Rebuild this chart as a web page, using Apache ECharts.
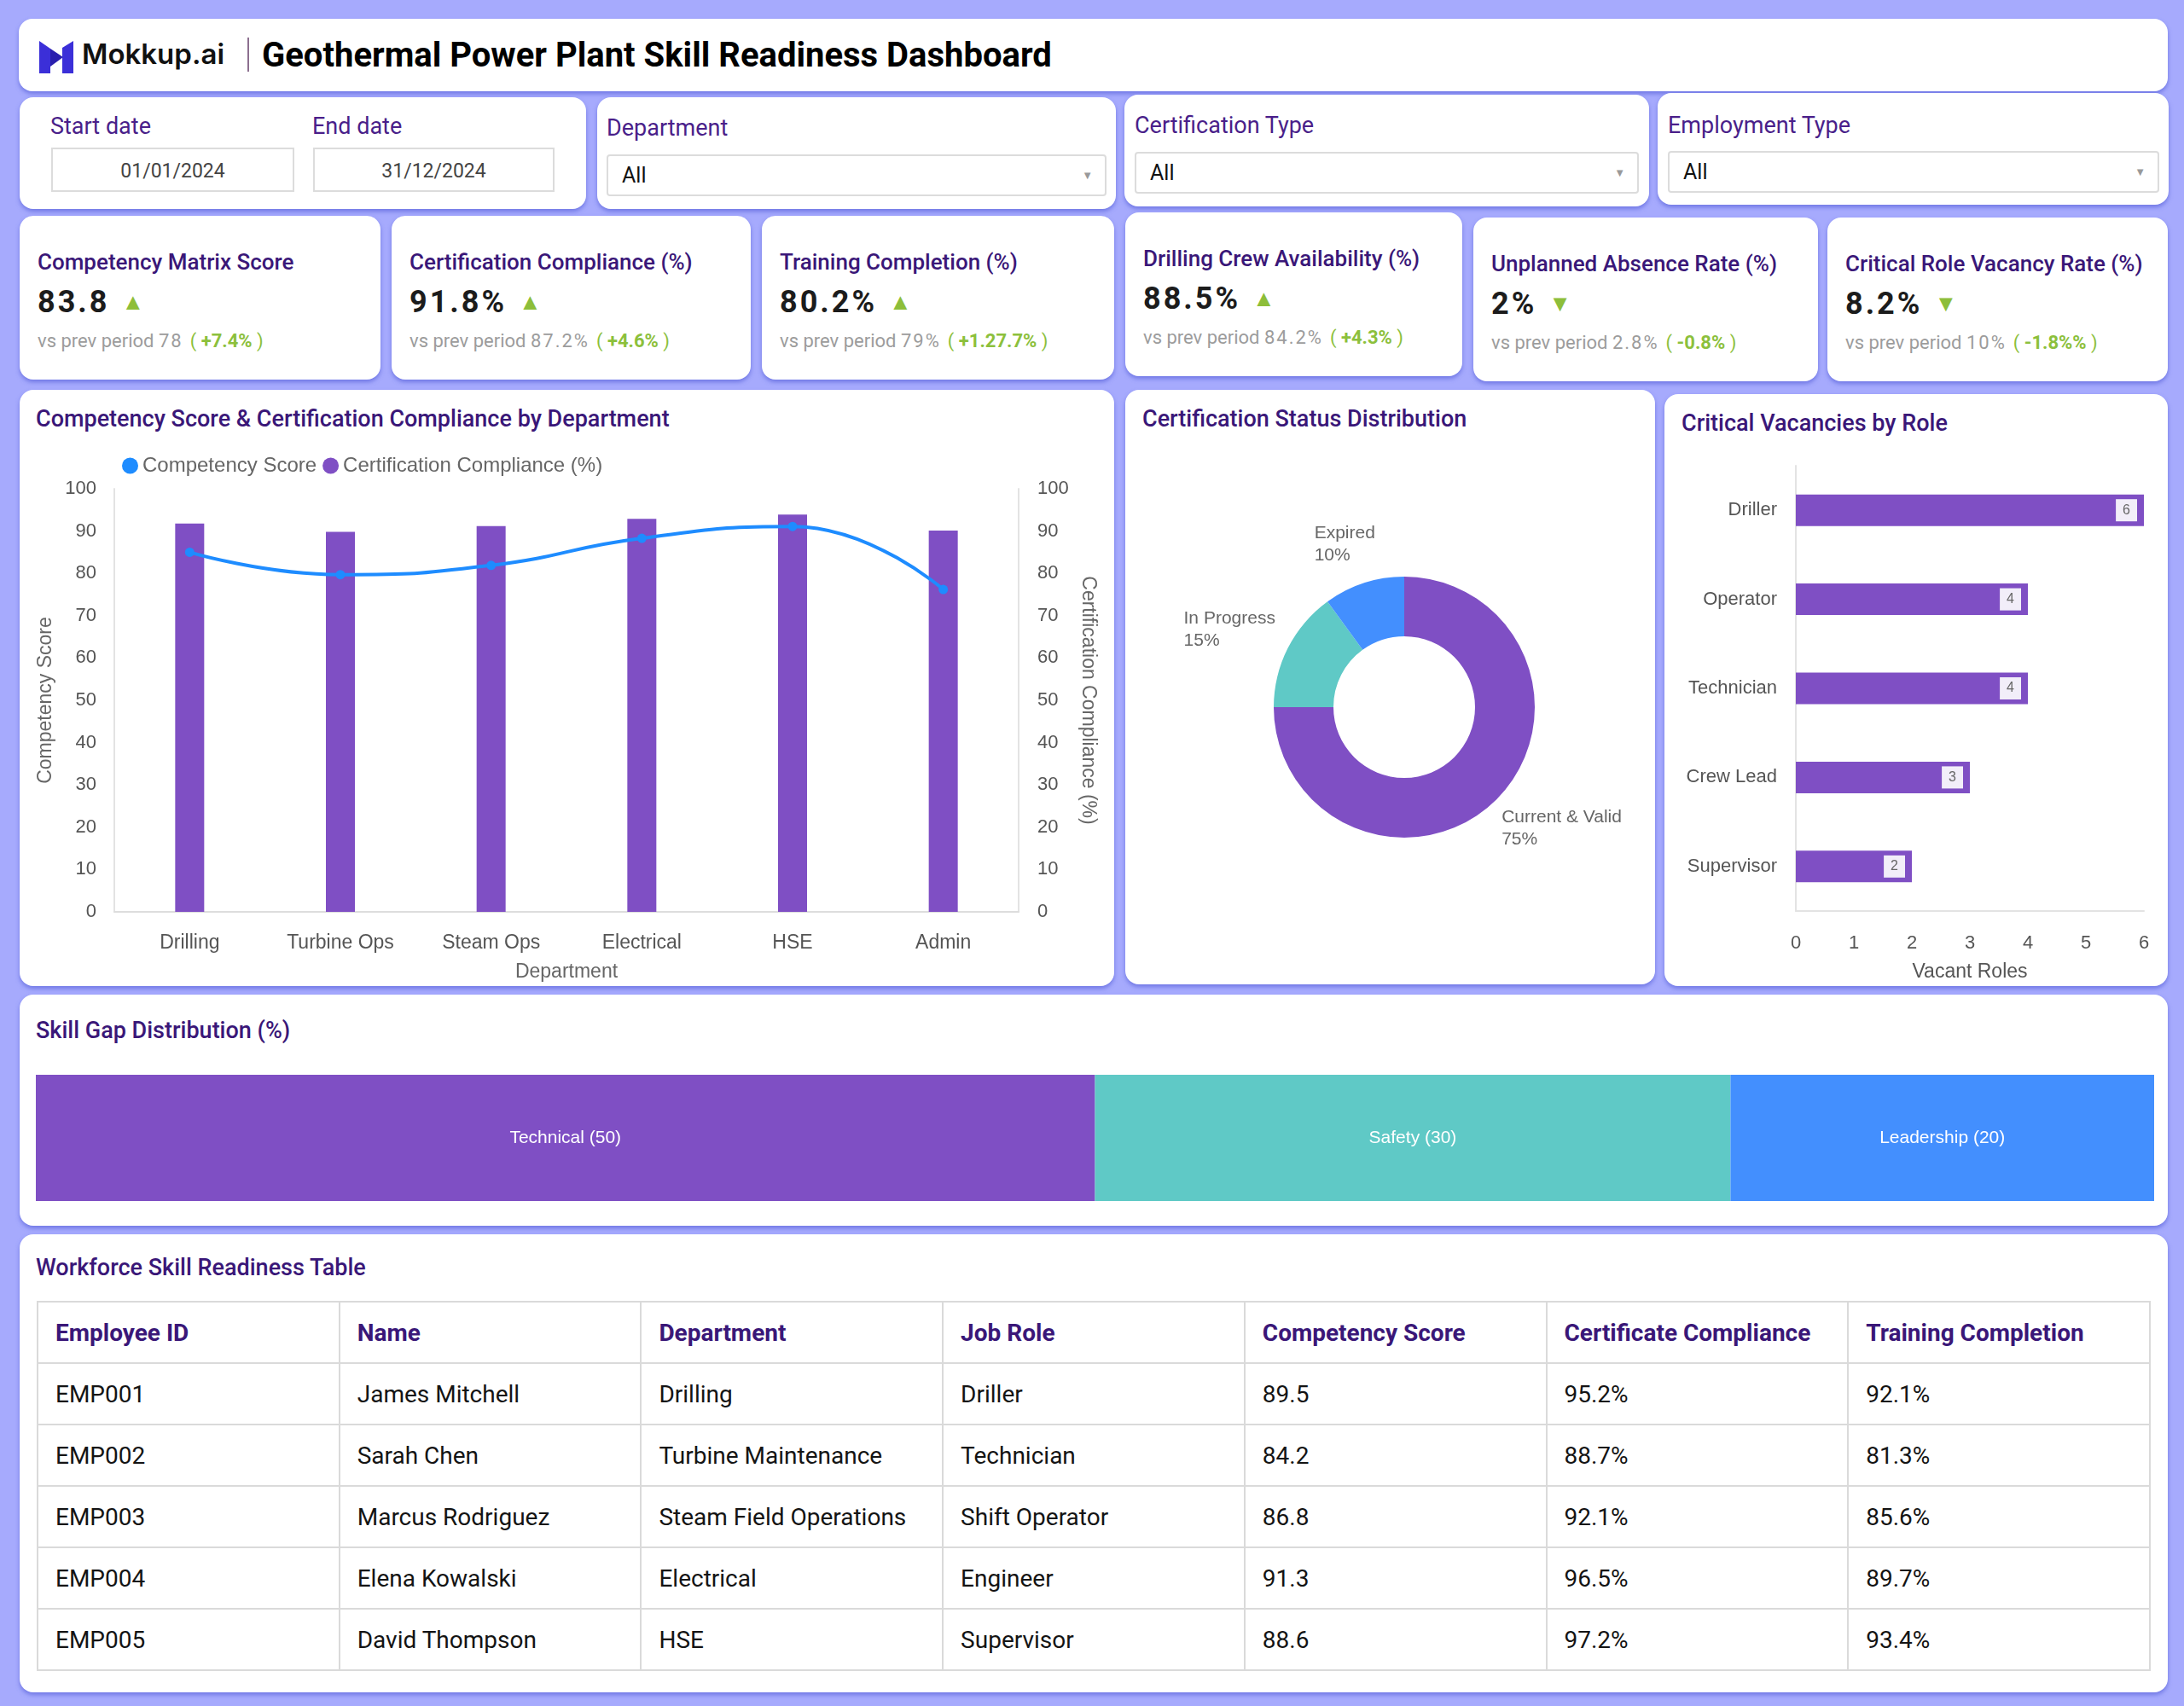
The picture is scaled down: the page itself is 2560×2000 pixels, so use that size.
<!DOCTYPE html>
<html>
<head>
<meta charset="utf-8">
<title>Geothermal Power Plant Skill Readiness Dashboard</title>
<script src="https://cdn.jsdelivr.net/npm/echarts@6/dist/echarts.min.js"></script>
<style>
  html, body { margin: 0; padding: 0; }
  body {
    width: 2560px; height: 2000px; position: relative; overflow: hidden;
    background: #a6aafd; font-family: Roboto, "Noto Sans", sans-serif;
  }
  .card {
    position: absolute; background: #fff; border-radius: 16px;
    box-shadow: 0 3px 5px rgba(70, 80, 210, 0.55);
  }
  .title { position: absolute; color: #3a1778; font-weight: 500; font-size: 27px; line-height: 32px; white-space: nowrap; }
  .flabel { position: absolute; color: #4a1f8a; font-size: 27px; line-height: 32px; }
  .datebox {
    position: absolute; height: 52px; border: 2px solid #dcdcdc; box-sizing: border-box;
    text-align: center; line-height: 52px; font-size: 23px; color: #444;
  }
  .select {
    position: absolute; height: 49px; border: 2px solid #dcdcdc; border-radius: 4px; box-sizing: border-box;
    font-size: 25px; line-height: 46px; color: #111; padding-left: 16px;
  }
  .select .arrow { position: absolute; right: 14px; top: 0; font-size: 13px; color: #999; }
  .kpi-title { position: absolute; left: 21px; top: 38px; color: #3a1778; font-weight: 500; font-size: 26px; line-height: 32px; white-space: nowrap; }
  .kpi-value { position: absolute; left: 21px; top: 80px; color: #1c1c1c; font-weight: 700; font-size: 36px; line-height: 42px; letter-spacing: 3px; white-space: nowrap; }
  .kpi-value .tri { color: #8dbe3a; font-size: 27px; margin-left: 14px; letter-spacing: 0; vertical-align: 3px; }
  .kpi-sub { position: absolute; left: 21px; top: 133px; color: #9c9c9c; font-size: 22px; line-height: 28px; white-space: nowrap; }
  .kpi-sub .num { letter-spacing: 2px; }
  .kpi-sub .chg { color: #8cc03c; margin-left: 8px; }
  .kpi-sub .chg b { font-weight: 700; }
  .chart { position: absolute; }
  table { position: absolute; border-collapse: collapse; table-layout: fixed; }
  td, th { border: 2px solid #dadada; height: 70px; padding: 0 0 0 20px; text-align: left; font-size: 28px; white-space: nowrap; }
  th { color: #3a1778; font-weight: 700; }
  td { color: #141414; font-weight: 400; }
</style>
</head>
<body>

<!-- header -->
<div class="card" style="left:22px;top:22px;width:2519px;height:85px;">
  <svg style="position:absolute;left:24px;top:26px;" width="40" height="38" viewBox="0 0 40 38">
    <polygon points="0,0 13,9 13,38 0,38" fill="#3b2fd8"/>
    <polygon points="13,9 28,19 13,30" fill="#2a1fae"/>
    <polygon points="40,0 27,8 27,38 40,38" fill="#3b2fd8"/>
  </svg>
  <div style="position:absolute;left:74px;top:21px;font-family:Inter,Roboto,sans-serif;font-weight:600;font-size:33px;line-height:40px;color:#111;">Mokkup.ai</div>
  <div style="position:absolute;left:268px;top:22px;width:2px;height:40px;background:#8c6f8f;"></div>
  <div style="position:absolute;left:285px;top:20px;font-weight:700;font-size:40px;line-height:46px;color:#000;white-space:nowrap;">Geothermal Power Plant Skill Readiness Dashboard</div>
</div>

<div id="filters"></div>
<div id="kpis"></div>

<!-- chart cards -->
<div class="card" style="left:23px;top:457px;width:1283px;height:699px;">
  <div class="title" style="left:19px;top:18px;">Competency Score &amp; Certification Compliance by Department</div>
  <div id="comboChart" class="chart" style="left:0;top:0;width:1283px;height:699px;"></div>
</div>
<div class="card" style="left:1319px;top:457px;width:621px;height:697px;">
  <div class="title" style="left:20px;top:18px;">Certification Status Distribution</div>
  <div id="donutChart" class="chart" style="left:0;top:0;width:621px;height:697px;"></div>
</div>
<div class="card" style="left:1951px;top:462px;width:590px;height:694px;">
  <div class="title" style="left:20px;top:18px;">Critical Vacancies by Role</div>
  <div id="vacancyChart" class="chart" style="left:0;top:0;width:590px;height:694px;"></div>
</div>
<div class="card" style="left:23px;top:1166px;width:2518px;height:271px;">
  <div class="title" style="left:19px;top:26px;">Skill Gap Distribution (%)</div>
  <div id="gapChart" class="chart" style="left:0;top:0;width:2518px;height:271px;"></div>
</div>
<div class="card" style="left:23px;top:1447px;width:2518px;height:537px;">
  <div class="title" style="left:19px;top:23px;">Workforce Skill Readiness Table</div>
  <table id="skillTable" style="left:20px;top:78px;width:2478px;"></table>
</div>

<script>
// ---- data ----
const departments = ['Drilling', 'Turbine Ops', 'Steam Ops', 'Electrical', 'HSE', 'Admin'];
const competencyScore = [85.0, 79.7, 81.9, 88.3, 91.1, 76.2];
const certCompliance = [91.8, 89.8, 91.2, 92.9, 93.9, 90.1];

const certStatusNames = ['Current & Valid', 'In Progress', 'Expired'];
const certStatusValues = [75, 15, 10];

const vacancyRoles = ['Driller', 'Operator', 'Technician', 'Crew Lead', 'Supervisor'];
const vacancyCounts = [6, 4, 4, 3, 2];

const skillGapNames = ['Technical', 'Safety', 'Leadership'];
const skillGapValues = [50, 30, 20];

const kpiTitles = ['Competency Matrix Score', 'Certification Compliance (%)', 'Training Completion (%)',
  'Drilling Crew Availability (%)', 'Unplanned Absence Rate (%)', 'Critical Role Vacancy Rate (%)'];
const kpiValues = ['83.8', '91.8%', '80.2%', '88.5%', '2%', '8.2%'];
const kpiUp = [true, true, true, true, false, false];
const kpiPrev = ['78', '87.2%', '79%', '84.2%', '2.8%', '10%'];
const kpiChange = ['+7.4%', '+4.6%', '+1.27.7%', '+4.3%', '-0.8%', '-1.8%%'];

const tableHeaders = ['Employee ID', 'Name', 'Department', 'Job Role', 'Competency Score', 'Certificate Compliance', 'Training Completion'];
const tableRows = [
  ['EMP001', 'James Mitchell', 'Drilling', 'Driller', '89.5', '95.2%', '92.1%'],
  ['EMP002', 'Sarah Chen', 'Turbine Maintenance', 'Technician', '84.2', '88.7%', '81.3%'],
  ['EMP003', 'Marcus Rodriguez', 'Steam Field Operations', 'Shift Operator', '86.8', '92.1%', '85.6%'],
  ['EMP004', 'Elena Kowalski', 'Electrical', 'Engineer', '91.3', '96.5%', '89.7%'],
  ['EMP005', 'David Thompson', 'HSE', 'Supervisor', '88.6', '97.2%', '93.4%']
];

const PURPLE = '#7f4fc4';
const TEAL = '#5fc9c6';
const BLUE = '#438ffe';
const LINE_BLUE = '#1e8cff';
const chartFont = '"Liberation Sans", Arial, sans-serif';

// ---- filters ----
const filterHtml = `
<div class="card" style="left:23px;top:114px;width:664px;height:131px;">
  <div class="flabel" style="left:36px;top:18px;">Start date</div>
  <div class="flabel" style="left:343px;top:18px;">End date</div>
  <div class="datebox" style="left:37px;top:59px;width:285px;">01/01/2024</div>
  <div class="datebox" style="left:344px;top:59px;width:283px;">31/12/2024</div>
</div>
<div class="card" style="left:700px;top:114px;width:608px;height:131px;">
  <div class="flabel" style="left:11px;top:20px;">Department</div>
  <div class="select" style="left:11px;top:67px;width:586px;">All<span class="arrow">&#9660;</span></div>
</div>
<div class="card" style="left:1318px;top:111px;width:615px;height:131px;">
  <div class="flabel" style="left:12px;top:20px;">Certification Type</div>
  <div class="select" style="left:12px;top:67px;width:591px;">All<span class="arrow">&#9660;</span></div>
</div>
<div class="card" style="left:1943px;top:109px;width:599px;height:131px;">
  <div class="flabel" style="left:12px;top:22px;">Employment Type</div>
  <div class="select" style="left:12px;top:68px;width:576px;">All<span class="arrow">&#9660;</span></div>
</div>`;
document.getElementById('filters').innerHTML = filterHtml;

// ---- kpi cards ----
const kpiBoxes = [[23, 253, 423], [459, 253, 421], [893, 253, 413], [1319, 249, 395], [1727, 255, 404], [2142, 255, 399]];
let kpiHtml = '';
kpiTitles.forEach((t, i) => {
  const b = kpiBoxes[i];
  kpiHtml += `<div class="card" style="left:${b[0]}px;top:${b[1]}px;width:${b[2]}px;height:192px;">
    <div class="kpi-title">${t}</div>
    <div class="kpi-value">${kpiValues[i]}<span class="tri">${kpiUp[i] ? '&#9650;' : '&#9660;'}</span></div>
    <div class="kpi-sub">vs prev period <span class="num">${kpiPrev[i]}</span><span class="chg">( <b>${kpiChange[i]}</b> )</span></div>
  </div>`;
});
document.getElementById('kpis').innerHTML = kpiHtml;

// ---- table ----
let tableHtml = '<tr>' + tableHeaders.map(h => `<th>${h}</th>`).join('') + '</tr>';
tableRows.forEach(r => { tableHtml += '<tr>' + r.map(c => `<td>${c}</td>`).join('') + '</tr>'; });
document.getElementById('skillTable').innerHTML = tableHtml;

// ---- combo chart ----
const comboChart = echarts.init(document.getElementById('comboChart'));
comboChart.setOption({
  textStyle: { fontFamily: chartFont },
  legend: {
    left: 115, top: 72, icon: 'circle', itemWidth: 19, itemHeight: 19, itemGap: 7,
    textStyle: { color: '#666', fontSize: 24, fontFamily: chartFont },
    data: ['Competency Score', 'Certification Compliance (%)']
  },
  grid: { left: 111, right: 112, top: 116, bottom: 87 },
  xAxis: {
    type: 'category', data: departments,
    name: 'Department', nameLocation: 'middle', nameGap: 59,
    nameTextStyle: { color: '#666', fontSize: 23 },
    axisLine: { lineStyle: { color: '#ddd', width: 2 } },
    axisTick: { show: false },
    axisLabel: { color: '#555', fontSize: 23, margin: 25 }
  },
  yAxis: [{
    type: 'value', min: 0, max: 100, interval: 10,
    name: 'Competency Score', nameLocation: 'middle', nameGap: 68,
    nameTextStyle: { color: '#666', fontSize: 23 },
    axisLine: { show: true, lineStyle: { color: '#e3e3e3', width: 2 } },
    axisTick: { show: false }, splitLine: { show: false },
    axisLabel: { color: '#555', fontSize: 22, margin: 21 }
  }, {
    type: 'value', min: 0, max: 100, interval: 10,
    name: 'Certification Compliance (%)', nameLocation: 'middle', nameGap: 66, nameRotate: -90,
    nameTextStyle: { color: '#666', fontSize: 23 },
    axisLine: { show: true, lineStyle: { color: '#e3e3e3', width: 2 } },
    axisTick: { show: false }, splitLine: { show: false },
    axisLabel: { color: '#555', fontSize: 22, margin: 22 }
  }],
  series: [{
    name: 'Competency Score', type: 'line', yAxisIndex: 0, data: competencyScore,
    smooth: true, symbol: 'circle', symbolSize: 11, z: 5,
    itemStyle: { color: LINE_BLUE }, lineStyle: { color: LINE_BLUE, width: 4 }
  }, {
    name: 'Certification Compliance (%)', type: 'bar', yAxisIndex: 1, data: certCompliance,
    barWidth: 34, itemStyle: { color: PURPLE }
  }]
});

// ---- donut chart ----
const donutChart = echarts.init(document.getElementById('donutChart'));
donutChart.setOption({
  textStyle: { fontFamily: chartFont },
  series: [{
    type: 'pie', center: [327, 372], radius: [83, 153], startAngle: 90, clockwise: true,
    color: [PURPLE, TEAL, BLUE],
    data: certStatusNames.map((n, i) => ({ name: n, value: certStatusValues[i] })),
    label: {
      show: true, position: 'outside',
      formatter: p => `{t|${p.name}}\n{t|${p.value}%}`,
      rich: { t: { align: 'left', color: '#666', fontSize: 21, lineHeight: 26, fontFamily: chartFont } }
    },
    labelLine: { show: false, length: 48, length2: -33 },
    emphasis: { disabled: true }
  }]
});

// ---- vacancy chart ----
const vacancyChart = echarts.init(document.getElementById('vacancyChart'));
vacancyChart.setOption({
  textStyle: { fontFamily: chartFont },
  grid: { left: 154, right: 28, top: 84, bottom: 84 },
  xAxis: {
    type: 'value', min: 0, max: 6, interval: 1,
    name: 'Vacant Roles', nameLocation: 'middle', nameGap: 60,
    nameTextStyle: { color: '#555', fontSize: 23 },
    axisLine: { show: true, lineStyle: { color: '#e3e3e3', width: 2 } },
    axisTick: { show: false }, splitLine: { show: false },
    axisLabel: { color: '#555', fontSize: 22, margin: 27 }
  },
  yAxis: {
    type: 'category', data: vacancyRoles, inverse: true,
    axisLine: { show: true, lineStyle: { color: '#e3e3e3', width: 2 } },
    axisTick: { show: false },
    axisLabel: { color: '#555', fontSize: 22, margin: 22 }
  },
  series: [{
    type: 'bar', data: vacancyCounts, barWidth: 37, itemStyle: { color: PURPLE },
    label: {
      show: true, position: 'insideRight', distance: 8,
      backgroundColor: 'rgba(255,255,255,0.9)', padding: [5, 8],
      color: '#666', fontSize: 16
    }
  }]
});

// ---- skill gap chart ----
const gapChart = echarts.init(document.getElementById('gapChart'));
gapChart.setOption({
  textStyle: { fontFamily: chartFont },
  grid: { left: 19, right: 16, top: 94, bottom: 29 },
  xAxis: { type: 'value', min: 0, max: 100, show: false },
  yAxis: { type: 'category', data: ['Skill Gap'], show: false },
  series: skillGapNames.map((n, i) => ({
    name: n, type: 'bar', stack: 'gap', data: [skillGapValues[i]], barWidth: '100%',
    itemStyle: { color: [PURPLE, TEAL, BLUE][i] },
    label: { show: true, position: 'inside', formatter: '{a} ({c})', color: '#fff', fontSize: 21 }
  }))
});
</script>
</body>
</html>
